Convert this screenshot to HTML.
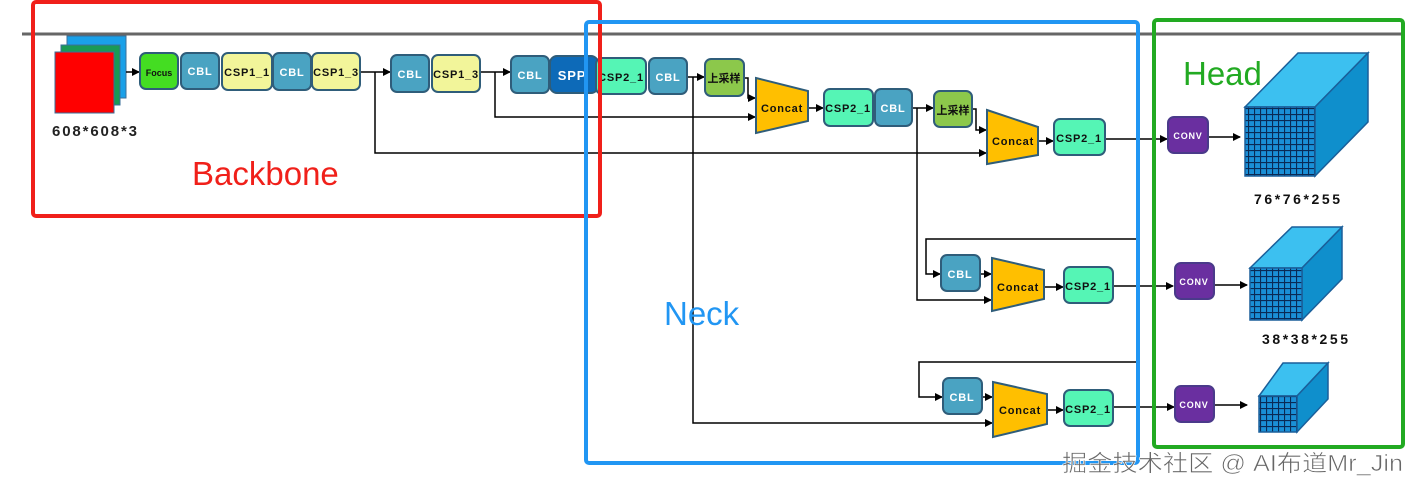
<!DOCTYPE html>
<html><head><meta charset="utf-8"><style>
html,body{margin:0;padding:0;background:#fff;}
svg{display:block;}
text{font-family:"Liberation Sans","Noto Sans CJK SC",sans-serif;}
</style></head><body>
<svg width="1420" height="492" viewBox="0 0 1420 492" xmlns="http://www.w3.org/2000/svg">
<defs>
<marker id="a" markerWidth="8" markerHeight="8" refX="7" refY="4" orient="auto" markerUnits="userSpaceOnUse"><path d="M0,0 L8,4 L0,8 Z" fill="#000"/></marker>
<pattern id="g" width="6" height="6" patternUnits="userSpaceOnUse"><rect width="6" height="6" fill="#1a8fd6"/><path d="M0,0.5H6M0.5,0V6" stroke="#0a2a55" stroke-width="1.2"/></pattern>
</defs>
<line x1="22" y1="34" x2="1405" y2="34" stroke="#666" stroke-width="3"/>

<!-- input -->
<rect x="67" y="36" width="59" height="62" fill="#1aa0e8" stroke="#3a6f9a"/>
<rect x="61" y="45" width="59" height="60" fill="#1a9a55" stroke="#3a6f9a"/>
<rect x="55" y="52" width="59" height="61" fill="#f00" stroke="#3a6f9a"/>
<text x="52" y="136" font-size="15" font-weight="bold" fill="#222" textLength="85" lengthAdjust="spacing">608*608*3</text>

<g stroke="#000" stroke-width="1.5" fill="none">
<line x1="126" y1="72" x2="139" y2="72" marker-end="url(#a)"/>
<polyline points="360,72 390,72" marker-end="url(#a)"/>
<polyline points="375,72 375,153 986,153" marker-end="url(#a)"/>
<polyline points="480,72 510,72" marker-end="url(#a)"/>
<polyline points="495,72 495,117 755,117" marker-end="url(#a)"/>
<polyline points="687,77 704,77" marker-end="url(#a)"/>
<polyline points="693,77 693,423 992,423" marker-end="url(#a)"/>
<polyline points="744,78 748,78 748,98 755,98" marker-end="url(#a)"/>
<polyline points="808,108 823,108" marker-end="url(#a)"/>
<polyline points="912,108 933,108" marker-end="url(#a)"/>
<polyline points="917,108 917,300 991,300" marker-end="url(#a)"/>
<polyline points="972,109 976,109 976,130 986,130" marker-end="url(#a)"/>
<polyline points="1038,141 1053,141" marker-end="url(#a)"/>
<polyline points="1105,139 1167,139" marker-end="url(#a)"/>
<polyline points="1138,239 926,239 926,274 940,274" marker-end="url(#a)"/>
<polyline points="980,274 991,274" marker-end="url(#a)"/>
<polyline points="1044,287 1063,287" marker-end="url(#a)"/>
<polyline points="1113,286 1173,286" marker-end="url(#a)"/>
<polyline points="1138,362 919,362 919,397 942,397" marker-end="url(#a)"/>
<polyline points="982,397 992,397" marker-end="url(#a)"/>
<polyline points="1047,410 1063,410" marker-end="url(#a)"/>
<polyline points="1113,407 1174,407" marker-end="url(#a)"/>
<polyline points="1208,137 1240,137" marker-end="url(#a)"/>
<polyline points="1214,285 1247,285" marker-end="url(#a)"/>
<polyline points="1214,405 1247,405" marker-end="url(#a)"/>
</g>

<g stroke="#2f5d7a" stroke-width="2" font-weight="bold" text-anchor="middle" font-size="11" letter-spacing="0.8">
<rect x="140" y="53" width="38" height="36" rx="6" fill="#44dd22"/><text x="159" y="76" stroke="none" fill="#111" font-size="9" letter-spacing="0">Focus</text>
<rect x="181" y="53" width="38" height="36" rx="6" fill="#4aa3c2"/><text x="200" y="75" stroke="none" fill="#fff">CBL</text>
<rect x="222" y="53" width="50" height="37" rx="6" fill="#f2f59a"/><text x="247" y="76" stroke="none" fill="#111">CSP1_1</text>
<rect x="273" y="53" width="38" height="37" rx="6" fill="#4aa3c2"/><text x="292" y="76" stroke="none" fill="#fff">CBL</text>
<rect x="312" y="53" width="48" height="37" rx="6" fill="#f2f59a"/><text x="336" y="76" stroke="none" fill="#111">CSP1_3</text>
<rect x="391" y="55" width="38" height="37" rx="6" fill="#4aa3c2"/><text x="410" y="78" stroke="none" fill="#fff">CBL</text>
<rect x="432" y="55" width="48" height="37" rx="6" fill="#f2f59a"/><text x="456" y="78" stroke="none" fill="#111">CSP1_3</text>
<rect x="511" y="56" width="38" height="37" rx="6" fill="#4aa3c2"/><text x="530" y="79" stroke="none" fill="#fff">CBL</text>
<rect x="550" y="56" width="48" height="37" rx="7" fill="#0d6ab8"/><text x="572" y="80" stroke="none" fill="#fff" font-size="13">SPP</text>
<rect x="596" y="58" width="50" height="36" rx="6" fill="#55f5b5"/><text x="621" y="81" stroke="none" fill="#111">CSP2_1</text>
<rect x="649" y="58" width="38" height="36" rx="6" fill="#4aa3c2"/><text x="668" y="81" stroke="none" fill="#fff">CBL</text>
<rect x="705" y="59" width="39" height="37" rx="6" fill="#8cc84b"/><text x="724" y="82" stroke="none" fill="#111" font-size="11" letter-spacing="0">上采样</text>
<polygon points="756,78 808,91 808,121 756,133" fill="#ffbf00"/><text x="782" y="112" stroke="none" fill="#111">Concat</text>
<rect x="824" y="89" width="49" height="37" rx="6" fill="#55f5b5"/><text x="848" y="112" stroke="none" fill="#111">CSP2_1</text>
<rect x="875" y="89" width="37" height="37" rx="6" fill="#4aa3c2"/><text x="893" y="112" stroke="none" fill="#fff">CBL</text>
<rect x="934" y="91" width="38" height="36" rx="6" fill="#8cc84b"/><text x="953" y="114" stroke="none" fill="#111" font-size="11" letter-spacing="0">上采样</text>
<polygon points="987,110 1038,127 1038,155 987,164" fill="#ffbf00"/><text x="1013" y="145" stroke="none" fill="#111">Concat</text>
<rect x="1054" y="119" width="51" height="36" rx="6" fill="#55f5b5"/><text x="1079" y="142" stroke="none" fill="#111">CSP2_1</text>
<rect x="941" y="255" width="39" height="36" rx="6" fill="#4aa3c2"/><text x="960" y="278" stroke="none" fill="#fff">CBL</text>
<polygon points="992,258 1044,270 1044,299 992,311" fill="#ffbf00"/><text x="1018" y="291" stroke="none" fill="#111">Concat</text>
<rect x="1064" y="267" width="49" height="36" rx="6" fill="#55f5b5"/><text x="1088" y="290" stroke="none" fill="#111">CSP2_1</text>
<rect x="943" y="378" width="39" height="36" rx="6" fill="#4aa3c2"/><text x="962" y="401" stroke="none" fill="#fff">CBL</text>
<polygon points="993,382 1047,394 1047,424 993,437" fill="#ffbf00"/><text x="1020" y="414" stroke="none" fill="#111">Concat</text>
<rect x="1064" y="390" width="49" height="36" rx="6" fill="#55f5b5"/><text x="1088" y="413" stroke="none" fill="#111">CSP2_1</text>
<rect x="1168" y="117" width="40" height="36" rx="6" fill="#6a2fa0" stroke="#4a3a8a"/><text x="1188" y="139" stroke="none" fill="#fff" font-size="9">CONV</text>
<rect x="1175" y="263" width="39" height="36" rx="6" fill="#6a2fa0" stroke="#4a3a8a"/><text x="1194" y="285" stroke="none" fill="#fff" font-size="9">CONV</text>
<rect x="1175" y="386" width="39" height="36" rx="6" fill="#6a2fa0" stroke="#4a3a8a"/><text x="1194" y="408" stroke="none" fill="#fff" font-size="9">CONV</text>
</g>

<!-- cubes -->
<g stroke="#1a5f9a" stroke-width="1.5">
<polygon points="1245,107 1298,53 1368,53 1315,107" fill="#3cc0f0"/>
<polygon points="1315,107 1368,53 1368,122 1315,176" fill="#0f8fcc"/>
<rect x="1245" y="107" width="70" height="69" fill="url(#g)"/>
<polygon points="1250,268 1292,227 1342,227 1302,268" fill="#3cc0f0"/>
<polygon points="1302,268 1342,227 1342,279 1302,320" fill="#0f8fcc"/>
<rect x="1250" y="268" width="52" height="52" fill="url(#g)"/>
<polygon points="1259,396 1283,363 1328,363 1297,396" fill="#3cc0f0"/>
<polygon points="1297,396 1328,363 1328,399 1297,432" fill="#0f8fcc"/>
<rect x="1259" y="396" width="38" height="36" fill="url(#g)"/>
</g>
<g font-weight="bold" font-size="14" fill="#111">
<text x="1254" y="204" textLength="86" lengthAdjust="spacing">76*76*255</text>
<text x="1262" y="344" textLength="86" lengthAdjust="spacing">38*38*255</text>
</g>

<!-- section boxes -->
<rect x="33" y="2" width="567" height="214" rx="3" fill="none" stroke="#f0201a" stroke-width="4"/>
<rect x="586" y="22" width="552" height="441" rx="3" fill="none" stroke="#2196f3" stroke-width="4"/>
<rect x="1154" y="20" width="249" height="427" rx="3" fill="none" stroke="#22aa22" stroke-width="4"/>
<text x="192" y="185" font-size="33" fill="#f0201a">Backbone</text>
<text x="664" y="325" font-size="33" fill="#2196f3">Neck</text>
<text x="1183" y="85" font-size="33" fill="#22aa22">Head</text>

<text x="1062" y="471" font-size="23" fill="#666" stroke="#fff" stroke-width="0.6" textLength="341" lengthAdjust="spacingAndGlyphs">掘金技术社区 @ AI布道Mr_Jin</text>
</svg>
</body></html>
